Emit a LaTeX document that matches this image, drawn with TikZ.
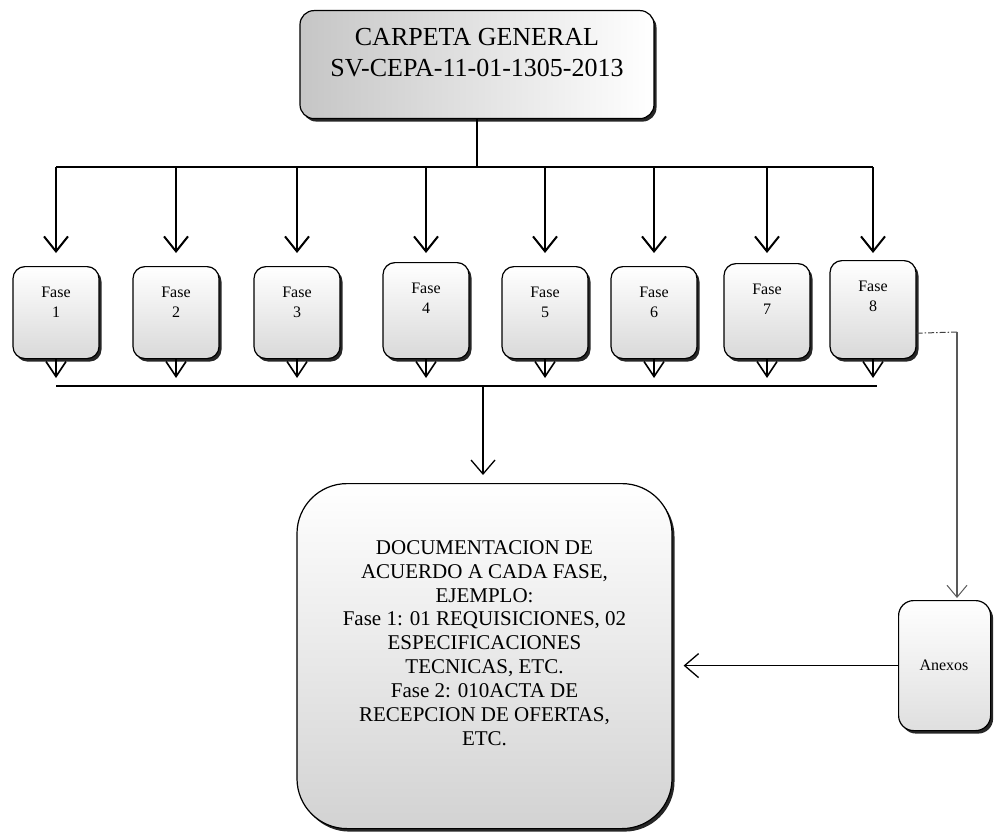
\documentclass[tikz,border=0pt]{standalone}
\usepackage{fontspec}
\setmainfont{Liberation Serif}
\usetikzlibrary{arrows.meta,shadows,calc}
\begin{document}
\begin{tikzpicture}[x=1pt,y=-1pt,
  shad/.style={drop shadow={shadow xshift=2.5pt,shadow yshift=-3pt,fill=black!85,opacity=1}},
  topbox/.style={draw=black,line width=1.2pt,rounded corners=14pt,inner sep=0pt,
    left color=gray!45,right color=white,shad},
  fasebox/.style={draw=black,line width=1.2pt,rounded corners=12pt,inner sep=0pt,
    minimum width=86pt,top color=white,middle color=white,bottom color=gray!30,shad},
  bigbox/.style={draw=black,line width=1.2pt,rounded corners=50pt,inner sep=0pt,
    top color=white,middle color=white,bottom color=gray!35,shad},
  anbox/.style={draw=black,line width=1.2pt,rounded corners=15pt,inner sep=0pt,
    top color=white,middle color=white,bottom color=gray!25,shad},
  toptext/.style={align=center,font=\fontsize{26}{31}\selectfont,inner sep=0pt},
  fasetext/.style={align=center,font=\fontsize{16}{20}\selectfont,inner sep=0pt},
  bigtext/.style={align=center,font=\fontsize{21}{23.9}\selectfont,inner sep=0pt},
  ln/.style={line width=2pt},
  arr/.style={line width=2pt,-{Straight Barb[length=15pt,width=24pt,line width=2pt]}},
  sarr/.style={line width=1.6pt,-{Straight Barb[length=15pt,width=20pt,line width=1.6pt]}},
  thinarr/.style={line width=1.3pt,-{Straight Barb[length=14pt,width=24pt,line width=1.3pt]}},
  gline/.style={draw=black!75,line width=1pt}
]
\useasboundingbox (0,0) rectangle (995,832);

% top box
\node[topbox,minimum width=354pt,minimum height=108pt,anchor=north] (c0) at (477,10) {};
\node[toptext] (c0t) at (477,53) {CARPETA GENERAL\\SV-CEPA-11-01-1305-2013};

% phase boxes
\node[fasebox,minimum height=92pt,anchor=north] (f1) at (56,266) {};
\node[fasebox,minimum height=92pt,anchor=north] (f2) at (176,266) {};
\node[fasebox,minimum height=92pt,anchor=north] (f3) at (297,266) {};
\node[fasebox,minimum height=96pt,anchor=north] (f4) at (426,262) {};
\node[fasebox,minimum height=92pt,anchor=north] (f5) at (545,266) {};
\node[fasebox,minimum height=92pt,anchor=north] (f6) at (654,266) {};
\node[fasebox,minimum height=95pt,anchor=north] (f7) at (767,263) {};
\node[fasebox,minimum height=98pt,anchor=north] (f8) at (873,260) {};
\foreach \i in {1,...,8}{
  \node[fasetext] (t\i) at ([yshift=-36pt]f\i.north) {Fase\\\i};
}

% top distribution
\coordinate (hT) at (477,167);
\draw[ln] (c0.south) -- (hT);
\draw[ln] (f1 |- hT) -- (f8 |- hT);
\foreach \i in {1,...,8}{
  \draw[arr] (f\i |- hT) -- ([yshift=13pt]f\i.north |- 0,266);
}

% bottom collector
\coordinate (hB) at (477,386);
\draw[line width=2.2pt] (f1.south |- hB) -- ([xshift=4pt]f8.south |- hB);
\foreach \i in {1,...,8}{
  \draw[sarr,shorten >=8pt] (f\i.south) -- (f\i.south |- hB);
}

% big box
\node[bigbox,minimum width=375pt,minimum height=345pt,anchor=north] (big) at (484.5,483) {};
\node[bigtext] (bigt) at (484.5,643) {DOCUMENTACION DE\\ACUERDO A CADA FASE,\\EJEMPLO:\\Fase 1: 01 REQUISICIONES, 02\\ESPECIFICACIONES\\TECNICAS, ETC.\\Fase 2: 010ACTA DE\\RECEPCION DE OFERTAS,\\ETC.};
\coordinate (hM) at (483,386);
\draw[thinarr,line width=1.6pt,shorten >=8pt] (hM) -- (hM |- big.north);

% anexos
\node[anbox,minimum width=92pt,minimum height=130pt,anchor=north west] (an) at (898,600) {};
\node[fasetext] (ant) at (944,665) {Anexos};
\coordinate (cn) at (957,332);
\draw[gline,dash pattern=on 6pt off 2pt on 1.5pt off 2pt] ([yshift=26pt]f8.south east) -- (cn);
\draw[draw=gray!70!black,line width=1.4pt,-{Straight Barb[length=12pt,width=20pt,line width=1pt]},shorten >=2pt] (cn) -- (cn |- an.north);
\draw[thinarr,shorten >=11pt] (an.west) -- (an.west -| big.east);
\end{tikzpicture}
\end{document}
